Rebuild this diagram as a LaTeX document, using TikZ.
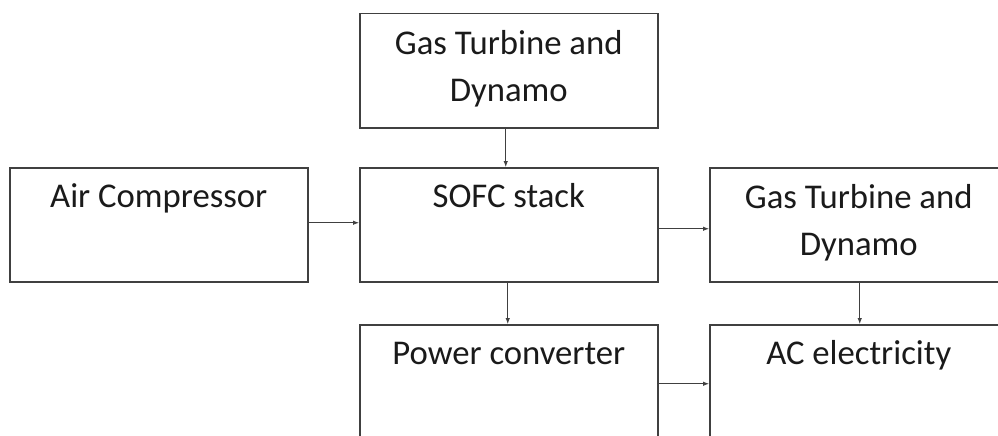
\documentclass[tikz,border=0pt]{standalone}
\usepackage{fontspec}
\setmainfont{Carlito}
\usetikzlibrary{calc,arrows.meta}
\definecolor{ln}{HTML}{404040}
\definecolor{tx}{HTML}{1a1a1a}
\begin{document}
\begin{tikzpicture}[x=1pt,y=-1pt,
  blk/.style={draw=ln,line width=1.5pt,minimum width=298pt,minimum height=114pt,inner sep=0pt,anchor=north west},
  lbl/.style={anchor=base,text=tx,font=\fontsize{34.7}{46}\selectfont,inner sep=0pt},
  flow/.style={draw=ln,line width=0.9pt,-{Latex[length=6pt,width=4.5pt]}}]
\useasboundingbox (0,0) rectangle (998,436);
\fill[white] (0,0) rectangle (998,436);
\clip (0,0) rectangle (998,436);
% boxes
\node[blk] (gt1) at (359,13) {};
\node[blk] (air) at (9,167) {};
\node[blk] (sofc) at (359,167) {};
\node[blk] (gt2) at (709,167) {};
\node[blk] (pc) at (359,324) {};
\node[blk] (ac) at (709,324) {};
% labels
\node[lbl] (t1a) at ($(gt1.north)+(0,42)$) {Gas Turbine and};
\node[lbl] (t1b) at ($(gt1.north)+(0,88)$) {Dynamo};
\node[lbl] (t2) at ($(air.north)+(0,40)$) {Air Compressor};
\node[lbl] (t3) at ($(sofc.north)+(0,40)$) {SOFC stack};
\node[lbl] (t4a) at ($(gt2.north)+(0,41)$) {Gas Turbine and};
\node[lbl] (t4b) at ($(gt2.north)+(0,88)$) {Dynamo};
\node[lbl] (t5) at ($(pc.north)+(0,40)$) {Power converter};
\node[lbl] (t6) at ($(ac.north)+(0,40)$) {AC electricity};
% connectors
\draw[flow] ([xshift=-3pt]gt1.south) -- ([xshift=-3pt]sofc.north);
\draw[flow] ([yshift=2pt]air.east) -- ([yshift=2pt]sofc.west);
\draw[flow] ([yshift=-4pt]sofc.east) -- ([yshift=-4pt]gt2.west);
\draw[flow] ([xshift=-1pt]sofc.south) -- ([xshift=-1pt]pc.north);
\draw[flow] ([xshift=1pt]gt2.south) -- ([xshift=1pt]ac.north);
\draw[flow] ([yshift=-2pt]pc.east) -- ([yshift=-2pt]ac.west);
\end{tikzpicture}
\end{document}
